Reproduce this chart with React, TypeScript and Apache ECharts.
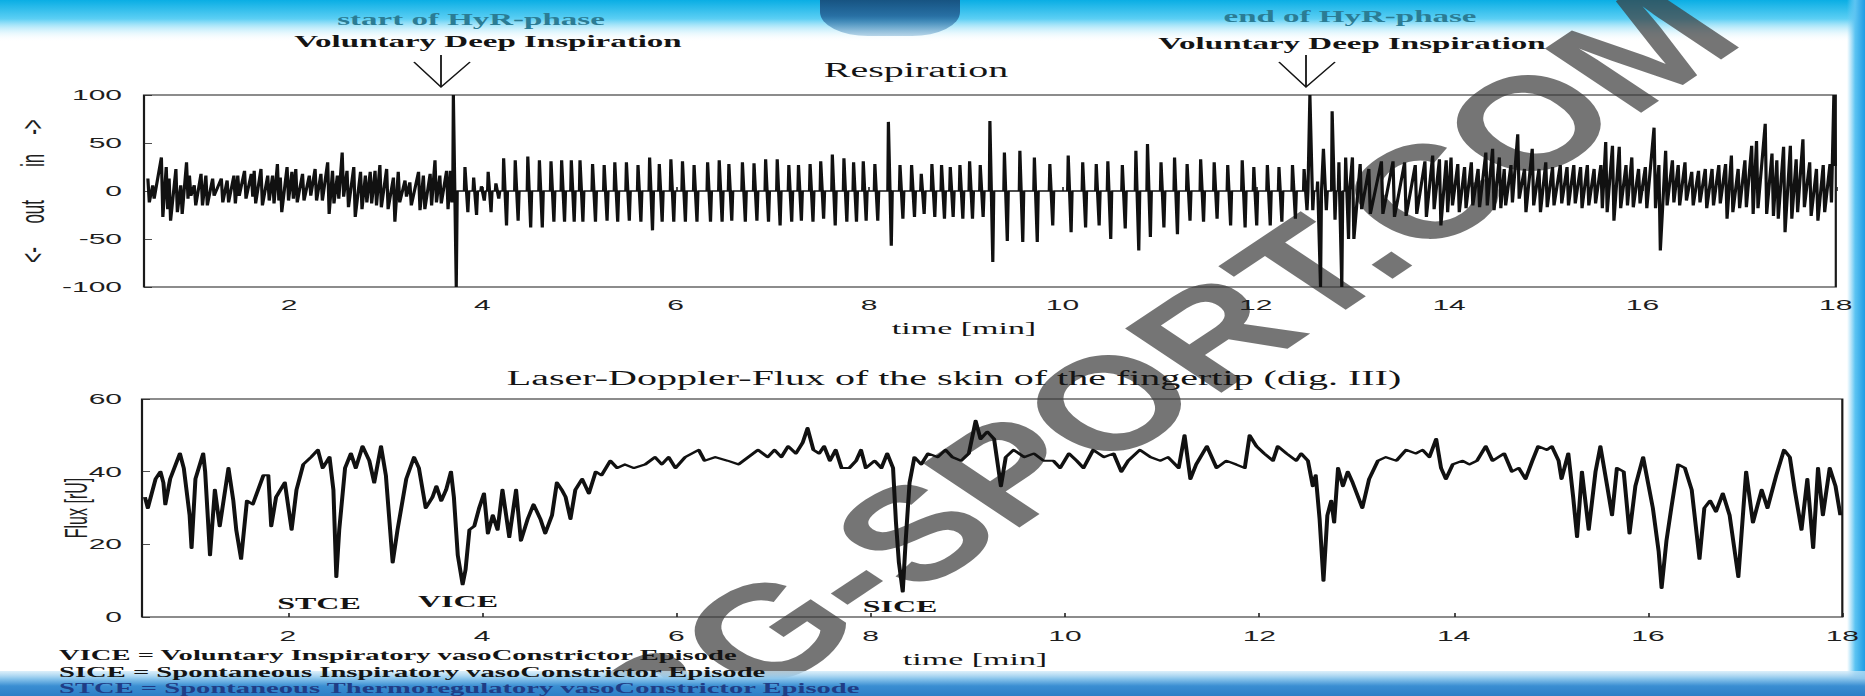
import React, { useEffect, useRef } from "react";
import * as echarts from "echarts";

// ---------- data ----------
const X_TICKS = [2, 4, 6, 8, 10, 12, 14, 16, 18];

// Respiration: [time (min), inspiratory peak, expiratory trough]
const respEarly: number[][] = [
  [0.54, 13, -12], [0.59, 6, -8], [0.68, 35, -27], [0.73, 25, -19], [0.76, 13, -31], [0.83, 23, -22],
  [0.88, 6, -24], [0.94, 30, -8], [0.97, 16, -5], [1.02, 6, -15], [1.09, 18, -15], [1.14, 16, -15],
  [1.21, 13, -5], [1.3, 13, -12], [1.36, 11, -12], [1.43, 16, -13], [1.47, 16, -5], [1.54, 21, -8],
  [1.61, 18, -6], [1.64, 21, -13], [1.71, 23, -15], [1.78, 16, -10], [1.83, 16, -13], [1.88, 28, -10],
  [1.91, 14, -22], [1.98, 25, -10], [2.03, 20, -8], [2.07, 23, -12], [2.14, 18, -10], [2.21, 16, -5],
  [2.27, 23, -10], [2.33, 18, -10], [2.4, 30, -24], [2.45, 21, -13], [2.5, 16, -8], [2.55, 40, -6],
  [2.6, 21, -17], [2.67, 25, -27], [2.74, 20, -19], [2.79, 16, -12], [2.84, 20, -13], [2.89, 21, -15],
  [2.94, 27, -17], [3.01, 23, -19], [3.08, 14, -32], [3.13, 20, -12], [3.2, 11, -6], [3.25, 9, -15],
  [3.34, 20, -20], [3.39, 16, -19], [3.46, 18, -15], [3.51, 32, -12], [3.56, 16, -13], [3.63, 21, -19],
  [3.67, 21, -12],
];
const respHyR: number[][] = [
  [3.7, 100, -100], [3.82, 25, -22], [3.91, 14, -25], [3.99, 5, -10], [4.06, 20, -22], [4.14, 8, -8],
  [4.22, 34, -36], [4.34, 32, -31], [4.47, 36, -38], [4.59, 32, -38], [4.71, 31, -32], [4.82, 32, -32],
  [4.92, 32, -32], [5.01, 32, -32], [5.14, 28, -32], [5.26, 27, -31], [5.37, 30, -32], [5.49, 30, -31],
  [5.61, 27, -32], [5.73, 35, -41], [5.83, 28, -32], [5.95, 33, -32], [6.07, 31, -32], [6.19, 27, -32],
  [6.33, 30, -32], [6.45, 32, -32], [6.55, 28, -31], [6.69, 30, -32], [6.81, 29, -31], [6.93, 33, -32],
  [7.05, 33, -36], [7.17, 27, -32], [7.27, 27, -31], [7.39, 28, -32], [7.5, 31, -29], [7.62, 38, -36],
  [7.74, 34, -32], [7.84, 30, -32], [7.94, 31, -31], [8.06, 28, -31], [8.2, 72, -57], [8.32, 27, -29],
  [8.44, 27, -27], [8.54, 18, -24], [8.65, 28, -27], [8.75, 27, -29], [8.84, 25, -27], [8.94, 27, -29],
  [9.04, 31, -29], [9.15, 27, -27], [9.25, 73, -74], [9.4, 40, -52], [9.56, 42, -53], [9.71, 35, -53],
  [9.87, 28, -36], [10.06, 37, -43], [10.21, 30, -38], [10.35, 28, -36], [10.47, 31, -50], [10.62, 27, -39],
  [10.76, 42, -62], [10.88, 49, -48], [11.02, 30, -38], [11.16, 35, -45], [11.29, 28, -31], [11.43, 33, -32],
  [11.57, 30, -29], [11.71, 27, -36], [11.86, 32, -38], [11.98, 25, -36], [12.12, 27, -36], [12.24, 25, -32],
  [12.38, 27, -29], [12.5, 23, -20], [12.56, 100, -20], [12.64, 10, -100], [12.7, 44, -20], [12.79, 83, -30],
  [12.86, 30, -100], [12.93, 35, -50],
];
const respLate: number[][] = [
  [13.0, 35, -50], [13.08, 28, -19], [13.17, 23, -24], [13.3, 31, -24], [13.42, 31, -27], [13.54, 30, -26],
  [13.65, 27, -24], [13.75, 31, -27], [13.83, 37, -19], [13.9, 33, -36], [13.97, 32, -22], [14.02, 35, -15],
  [14.09, 28, -22], [14.16, 25, -18], [14.23, 30, -15], [14.3, 23, -17], [14.38, 40, -15], [14.45, 44, -20],
  [14.52, 35, -18], [14.57, 23, -15], [14.64, 27, -12], [14.71, 59, -8], [14.78, 23, -22], [14.86, 44, -15],
  [14.93, 23, -22], [15.0, 30, -17], [15.07, 25, -15], [15.15, 27, -13], [15.22, 25, -15], [15.29, 27, -13],
  [15.36, 25, -18], [15.43, 27, -15], [15.5, 23, -13], [15.57, 27, -18], [15.62, 51, -22], [15.69, 47, -31],
  [15.76, 46, -18], [15.83, 27, -15], [15.89, 35, -17], [15.96, 23, -13], [16.03, 25, -18], [16.12, 66, -18],
  [16.17, 27, -62], [16.24, 42, -15], [16.31, 32, -12], [16.37, 27, -15], [16.44, 30, -10], [16.51, 20, -15],
  [16.58, 21, -12], [16.65, 23, -18], [16.72, 23, -15], [16.79, 27, -13], [16.86, 28, -29], [16.92, 37, -22],
  [16.99, 23, -18], [17.06, 32, -17], [17.13, 47, -24], [17.18, 52, -18], [17.27, 70, -24], [17.34, 39, -26],
  [17.39, 32, -29], [17.46, 46, -43], [17.53, 47, -29], [17.59, 33, -22], [17.66, 54, -17], [17.73, 30, -26],
  [17.8, 23, -31], [17.87, 27, -22], [17.94, 28, -12], [17.98, 100, 26],
];
const RESP_REST = 0; // resting level between deep breaths

// Laser-Doppler flux: [time (min), flux (rU)]
const fluxPart1: number[][] = [
  [0.53, 33], [0.56, 30], [0.64, 38], [0.69, 40], [0.72, 37], [0.74, 31], [0.79, 38], [0.89, 45], [0.93, 41],
  [0.99, 28], [1.01, 19], [1.05, 38], [1.13, 45], [1.15, 40], [1.2, 17], [1.25, 35], [1.3, 25], [1.39, 41],
  [1.44, 32], [1.47, 24], [1.52, 16], [1.58, 32], [1.64, 31], [1.75, 39], [1.8, 39], [1.83, 25], [1.88, 33],
  [1.97, 37], [2.04, 24], [2.09, 35], [2.16, 42], [2.24, 44], [2.31, 46], [2.36, 41], [2.43, 44], [2.47, 35],
  [2.5, 11], [2.53, 24], [2.59, 41], [2.65, 45], [2.7, 41], [2.77, 47], [2.84, 43], [2.89, 37], [2.96, 47],
  [3.01, 39], [3.08, 15], [3.13, 24], [3.22, 38], [3.3, 44], [3.35, 41], [3.42, 30], [3.49, 33], [3.53, 36],
  [3.58, 32], [3.63, 35], [3.68, 40], [3.71, 33], [3.75, 17], [3.8, 9], [3.83, 13], [3.87, 24], [3.92, 25],
  [3.97, 30], [4.02, 34], [4.06, 23], [4.11, 28], [4.16, 24], [4.21, 35], [4.28, 22], [4.35, 35], [4.4, 21],
  [4.47, 27], [4.53, 31], [4.6, 27], [4.65, 23], [4.72, 28], [4.77, 37], [4.82, 35],
];
const fluxPart2: number[][] = [
  [4.86, 33], [4.91, 27], [4.96, 35], [5.03, 38], [5.1, 34], [5.17, 40], [5.23, 39], [5.32, 43], [5.39, 41],
  [5.47, 42], [5.56, 41], [5.68, 42], [5.78, 44], [5.85, 42], [5.92, 44], [5.99, 41], [6.09, 44], [6.23, 46],
  [6.29, 43], [6.4, 44], [6.53, 43], [6.64, 42], [6.74, 44], [6.84, 46], [6.94, 44], [7.01, 46], [7.08, 44],
  [7.15, 47], [7.23, 45], [7.3, 48], [7.35, 52], [7.41, 46], [7.47, 45], [7.52, 47], [7.58, 43], [7.64, 46],
  [7.7, 41], [7.78, 41], [7.85, 43], [7.9, 46], [7.95, 41], [8.04, 43], [8.11, 41], [8.17, 45], [8.23, 41],
  [8.26, 26], [8.29, 15], [8.33, 7], [8.36, 21], [8.4, 37], [8.45, 44], [8.52, 42], [8.59, 45], [8.69, 44],
  [8.77, 46], [8.84, 44], [8.93, 43], [9.01, 45], [9.08, 54], [9.13, 49], [9.2, 51],
];
const fluxPart3: number[][] = [
  [9.27, 49], [9.34, 36], [9.39, 44], [9.47, 46], [9.58, 44], [9.68, 45], [9.78, 43], [9.88, 43], [9.95, 41],
  [10.04, 45], [10.12, 43], [10.19, 41], [10.29, 46], [10.4, 44], [10.5, 45], [10.58, 40], [10.65, 43],
  [10.77, 46], [10.88, 44], [10.98, 43], [11.06, 44], [11.17, 41], [11.23, 50], [11.29, 38], [11.35, 42],
  [11.46, 47], [11.56, 41], [11.66, 43], [11.76, 42], [11.85, 41], [11.9, 50], [11.97, 47], [12.05, 45],
  [12.14, 43], [12.19, 47], [12.28, 45], [12.38, 43], [12.43, 45], [12.5, 43], [12.55, 36], [12.58, 39],
  [12.62, 27], [12.66, 10], [12.7, 28], [12.74, 32], [12.77, 26], [12.81, 41], [12.86, 36], [12.91, 40],
  [12.96, 37], [13.06, 30], [13.13, 38], [13.22, 43], [13.3, 44], [13.41, 43], [13.51, 46], [13.61, 45],
];
const fluxPart4: number[][] = [
  [13.68, 46], [13.75, 44], [13.82, 49], [13.87, 41], [13.92, 38], [13.99, 42], [14.09, 43], [14.16, 42],
  [14.24, 43], [14.33, 47], [14.4, 43], [14.46, 44], [14.52, 45], [14.6, 40], [14.67, 41], [14.74, 38],
  [14.81, 43], [14.87, 47], [14.96, 46], [15.01, 47], [15.08, 43], [15.11, 38], [15.18, 45], [15.23, 33],
  [15.27, 22], [15.32, 40], [15.39, 24], [15.46, 40], [15.51, 47], [15.58, 36], [15.63, 28], [15.68, 41],
  [15.75, 40], [15.81, 23], [15.87, 36], [15.95, 44], [16.0, 37], [16.05, 30], [16.11, 18], [16.14, 8],
  [16.19, 21], [16.24, 30], [16.31, 42], [16.38, 41], [16.45, 35], [16.53, 16], [16.58, 30], [16.64, 32],
  [16.7, 29], [16.77, 34], [16.84, 28], [16.93, 11], [17.01, 40], [17.08, 26], [17.17, 35], [17.23, 30],
  [17.32, 39], [17.4, 46], [17.46, 44], [17.51, 35], [17.58, 24], [17.64, 38], [17.7, 19], [17.75, 41],
  [17.8, 28], [17.87, 41], [17.93, 36], [17.98, 28],
];

const TITLE_RESP = "Respiration";
const TITLE_FLUX = "Laser-Doppler-Flux of the skin of the fingertip (dig. III)";
const RESP_AXIS_NAME = "<-\u00a0\u00a0\u00a0\u00a0\u00a0out\u00a0\u00a0\u00a0\u00a0\u00a0\u00a0\u00a0in\u00a0\u00a0\u00a0\u00a0->";
const FLUX_AXIS_NAME = "Flux [rU]";
const LEGEND_LINES = [
  "VICE = Voluntary Inspiratory vasoConstrictor Episode",
  "SICE = Spontaneous Inspiratory vasoConstrictor Episode",
  "STCE = Spontaneous Thermoregulatory vasoConstrictor Episode",
];

// ---------- build series ----------
function noisy(cycles: number[][]) {
  const out: number[][] = [];
  cycles.forEach(([t, hi, lo]) => {
    out.push([t, hi], [t + 0.015, lo]);
  });
  return out;
}
function paced(cycles: number[][]) {
  const out: number[][] = [];
  cycles.forEach(([t, hi, lo]) => {
    out.push([t - 0.006, RESP_REST], [t, hi], [t + 0.03, lo], [t + 0.04, RESP_REST]);
  });
  return out;
}
const respData = [...noisy(respEarly), ...paced(respHyR), ...noisy(respLate)];
const fluxData = [...fluxPart1, ...fluxPart2, ...fluxPart3, ...fluxPart4];

const W = 932.5; // drawn at half width, then stretched 2x like the scanned slide
const H = 696;
const SERIF = '"Liberation Serif", "DejaVu Serif", serif';
const SANS = '"Liberation Sans", Arial, sans-serif';

function txt(text: string, x: number, y: number, size: number, opts: any = {}) {
  return {
    type: "text",
    x,
    y,
    z: 10,
    silent: true,
    style: {
      text,
      fill: opts.fill || "#141414",
      fontSize: size,
      fontFamily: opts.family || SERIF,
      fontWeight: opts.weight || "normal",
      align: opts.align || "center",
      textAlign: opts.align || "center",
      verticalAlign: "middle",
      textVerticalAlign: "middle",
    },
  };
}

function arrow(x: number) {
  return [
    { type: "line", z: 10, shape: { x1: x, y1: 55, x2: x, y2: 87 }, style: { stroke: "#151515", lineWidth: 0.9 } },
    {
      type: "polyline",
      z: 10,
      shape: { points: [[x - 13.5, 62], [x, 87], [x + 14.5, 62]] },
      style: { stroke: "#151515", lineWidth: 0.9, fill: "none" },
    },
  ];
}

export default function App() {
  const ref = useRef<HTMLDivElement>(null);
  useEffect(() => {
    if (!ref.current) return;
    const chart = echarts.init(ref.current, null, { renderer: "svg", width: W, height: H });
    const axisFont = { fontFamily: SANS, fontSize: 15, color: "#1e1e1e" };
    const xAxisBase = {
      type: "value",
      min: 0.5,
      max: 18,
      axisLine: { show: false },
      axisTick: { show: true, inside: true, length: 4, customValues: X_TICKS, lineStyle: { color: "#222", width: 0.8 } },
      axisLabel: { ...axisFont, margin: 10, customValues: X_TICKS },
      splitLine: { show: false },
    };
    const yBase = {
      type: "value",
      axisLine: { show: false },
      axisTick: { show: true, inside: true, length: 4, lineStyle: { color: "#222", width: 0.8 } },
      splitLine: { show: false },
      nameLocation: "middle",
      nameRotate: 90,
      nameMoveOverlap: false,
    };
    chart.setOption({
      animation: false,
      backgroundColor: "#ffffff",
      grid: [
        { left: 69.25, right: 14.6, top: 95, height: 192, show: true, borderColor: "#1a1a1a", borderWidth: 1.1, backgroundColor: "transparent" },
        { left: 71, right: 9.5, top: 399, height: 218, show: true, borderColor: "#1a1a1a", borderWidth: 1.1, backgroundColor: "transparent" },
      ],
      xAxis: [
        { ...xAxisBase, gridIndex: 0 },
        { ...xAxisBase, gridIndex: 1, axisLabel: { ...axisFont, margin: 11, customValues: X_TICKS } },
      ],
      yAxis: [
        {
          ...yBase,
          gridIndex: 0,
          min: -100,
          max: 100,
          interval: 50,
          name: RESP_AXIS_NAME,
          nameGap: 47,
          nameTextStyle: { fontFamily: SANS, fontSize: 17, color: "#1e1e1e" },
          axisLabel: { ...axisFont, margin: 11 },
        },
        {
          ...yBase,
          gridIndex: 1,
          min: 0,
          max: 60,
          interval: 20,
          name: FLUX_AXIS_NAME,
          nameGap: 25,
          nameTextStyle: { fontFamily: SANS, fontSize: 16, color: "#1e1e1e" },
          axisLabel: { ...axisFont, margin: 10 },
        },
      ],
      series: [
        {
          type: "line",
          name: "Respiration",
          xAxisIndex: 0,
          yAxisIndex: 0,
          data: respData,
          symbol: "none",
          silent: true,
          lineStyle: { color: "#111", width: 1.6 },
          z: 3,
        },
        {
          type: "line",
          name: "Flux",
          xAxisIndex: 1,
          yAxisIndex: 1,
          data: fluxData,
          symbol: "none",
          silent: true,
          lineStyle: { color: "#111", width: 2.0, join: "round" },
          z: 3,
        },
      ],
      graphic: [
        // slide decoration
        {
          type: "rect",
          z: 0,
          silent: true,
          shape: { x: 0, y: 0, width: W, height: 42 },
          style: {
            fill: new echarts.graphic.LinearGradient(0, 0, 0, 1, [
              { offset: 0, color: "#0aaee4" },
              { offset: 0.45, color: "#5ccff4" },
              { offset: 1, color: "rgba(255,255,255,0)" },
            ]),
          },
        },
        {
          type: "rect",
          z: 1,
          silent: true,
          shape: { x: 410, y: -14, width: 70, height: 50, r: [0, 0, 24, 24] },
          style: {
            fill: new echarts.graphic.LinearGradient(0, 0, 0, 1, [
              { offset: 0, color: "#103c62" },
              { offset: 0.6, color: "rgba(34,96,150,0.85)" },
              { offset: 1, color: "rgba(70,140,190,0.35)" },
            ]),
          },
        },
        {
          type: "rect",
          z: 0,
          silent: true,
          shape: { x: 923.5, y: 0, width: 9, height: H },
          style: {
            fill: new echarts.graphic.LinearGradient(0, 0, 1, 0, [
              { offset: 0, color: "rgba(120,205,245,0)" },
              { offset: 0.45, color: "#5cc4f2" },
              { offset: 1, color: "#1f9ce4" },
            ]),
          },
        },
        {
          type: "rect",
          z: 1,
          silent: true,
          shape: { x: 0, y: 671, width: W, height: 25 },
          style: {
            fill: new echarts.graphic.LinearGradient(0, 0, 0, 1, [
              { offset: 0, color: "rgba(205,232,248,0.7)" },
              { offset: 0.3, color: "#8cc6ec" },
              { offset: 0.6, color: "#3a8ed2" },
              { offset: 1, color: "#2c7ec6" },
            ]),
          },
        },
        // annotations
        txt("start of HyR-phase", 235.5, 20, 16.5, { weight: "bold", fill: "#2b7c94" }),
        txt("Voluntary Deep Inspiration", 244, 42, 16.5, { weight: "bold" }),
        ...arrow(220.5),
        txt("end of HyR-phase", 675, 17, 16.5, { weight: "bold", fill: "#2b7c94" }),
        txt("Voluntary Deep Inspiration", 676, 44, 16.5, { weight: "bold" }),
        ...arrow(653),
        txt(TITLE_RESP, 458, 70, 20),
        txt("time [min]", 482, 328, 17),
        txt(TITLE_FLUX, 477, 378, 20),
        txt("time [min]", 487.5, 659, 17),
        txt("STCE", 159.5, 603, 16, { weight: "bold" }),
        txt("VICE", 229, 601, 16, { weight: "bold" }),
        txt("SICE", 450, 606, 16, { weight: "bold" }),
        txt(LEGEND_LINES[0], 29.5, 655, 14.3, { weight: "bold", align: "left" }),
        txt(LEGEND_LINES[1], 29.5, 672, 14.3, { weight: "bold", align: "left" }),
        txt(LEGEND_LINES[2], 29.5, 688, 14.3, { weight: "bold", align: "left", fill: "#1f3d86" }),
        // watermark
        {
          type: "group",
          x: 578,
          y: 372,
          scaleX: 0.75,
          z: 50,
          silent: true,
          children: [
            {
              type: "text",
              rotation: Math.PI / 4,
              style: {
                text: "BG-SPORT.COM",
                fill: "#3a3a3a",
                opacity: 0.7,
                fontSize: 132,
                fontWeight: "bold",
                fontFamily: SANS,
                align: "center",
                textAlign: "center",
                verticalAlign: "middle",
                textVerticalAlign: "middle",
              },
            },
          ],
        },
      ],
    });
    return () => chart.dispose();
  }, []);
  return (
    <div
      ref={ref}
      style={{
        position: "absolute",
        left: 0,
        top: 0,
        width: W + "px",
        height: H + "px",
        transform: "scaleX(2)",
        transformOrigin: "0 0",
        background: "#fff",
      }}
    />
  );
}
